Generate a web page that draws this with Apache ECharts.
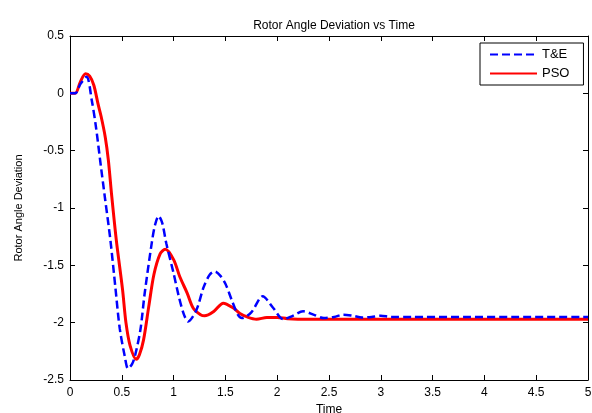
<!DOCTYPE html>
<html>
<head>
<meta charset="utf-8">
<script src="https://cdn.jsdelivr.net/npm/echarts@6/dist/echarts.min.js"></script>
<style>
  html, body { margin: 0; padding: 0; background: #fff; }
  #chart { width: 592px; height: 413px; }
</style>
</head>
<body>
<div id="chart"></div>
<script>
// T&E response (time, value)
var teTime  = [0, 0.05, 0.10, 0.16, 0.21, 0.25, 0.30, 0.34, 0.39, 0.44, 0.48, 0.53, 0.56, 0.60, 0.63, 0.68, 0.72, 0.79, 0.82, 0.855, 0.89, 0.93, 1.0, 1.05, 1.10, 1.14, 1.22, 1.29, 1.35, 1.40, 1.45, 1.50, 1.56, 1.62, 1.66, 1.75, 1.86, 1.96, 2.06, 2.15, 2.25, 2.35, 2.45, 2.55, 2.64, 2.73, 2.82, 2.91, 3.0, 3.1, 3.3, 5.0];
var teValue = [0, 0.0, 0.08, 0.145, -0.06, -0.29, -0.65, -0.93, -1.28, -1.71, -2.05, -2.30, -2.40, -2.36, -2.28, -2.06, -1.75, -1.30, -1.15, -1.07, -1.13, -1.31, -1.57, -1.77, -1.93, -1.99, -1.89, -1.69, -1.58, -1.555, -1.59, -1.66, -1.80, -1.93, -1.96, -1.91, -1.77, -1.87, -1.97, -1.94, -1.90, -1.93, -1.96, -1.95, -1.93, -1.94, -1.955, -1.95, -1.94, -1.95, -1.95, -1.95];

// PSO response (time, value)
var psoTime  = [0, 0.05, 0.10, 0.15, 0.19, 0.23, 0.27, 0.30, 0.34, 0.37, 0.40, 0.447, 0.507, 0.54, 0.58, 0.64, 0.67, 0.71, 0.76, 0.81, 0.87, 0.92, 1.0, 1.06, 1.13, 1.19, 1.26, 1.30, 1.39, 1.48, 1.58, 1.64, 1.71, 1.80, 1.90, 2.0, 2.1, 2.3, 5.0];
var psoValue = [0, 0, 0.10, 0.17, 0.15, 0.07, -0.09, -0.20, -0.38, -0.58, -0.87, -1.28, -1.71, -2.0, -2.2, -2.32, -2.28, -2.15, -1.86, -1.58, -1.40, -1.36, -1.45, -1.60, -1.74, -1.875, -1.93, -1.94, -1.90, -1.83, -1.875, -1.92, -1.95, -1.97, -1.955, -1.955, -1.965, -1.97, -1.97];

var seriesNames = ['T&E', 'PSO'];

function pairs(xs, ys) {
    var out = [];
    for (var i = 0; i < xs.length; i++) out.push([xs[i], ys[i]]);
    return out;
}

var font = 'Liberation Sans, Arial, sans-serif';
var myChart = echarts.init(document.getElementById('chart'));

var boxAxis = {
    axisLine: { show: true, onZero: false, lineStyle: { color: '#000', width: 1 } },
    axisTick: { show: true, inside: true, length: 5, lineStyle: { color: '#000' } },
    splitLine: { show: false }
};

var option = {
    animation: false,
    backgroundColor: '#fff',
    title: {
        text: 'Rotor Angle Deviation vs Time',
        left: 329,
        textAlign: 'center',
        top: 15,
        textStyle: { fontFamily: font, fontSize: 12, fontWeight: 'normal', color: '#000' }
    },
    legend: {
        data: seriesNames,
        orient: 'vertical',
        left: 480,
        top: 43,
        padding: [5, 14, 5, 9],
        itemGap: 6,
        itemWidth: 47,
        itemHeight: 12,
        itemStyle: { opacity: 0 },
        borderColor: '#000',
        borderWidth: 1,
        borderRadius: 0,
        backgroundColor: '#fff',
        textStyle: { fontFamily: font, fontSize: 13, color: '#000' }
    },
    grid: { left: 70, right: 4, top: 36, bottom: 33, outerBoundsMode: 'none' },
    xAxis: [
        Object.assign({
            type: 'value', min: 0, max: 5, interval: 0.5,
            name: 'Time', nameLocation: 'middle', nameGap: 23,
            nameTextStyle: { fontFamily: font, fontSize: 12, color: '#000' },
            axisLabel: { fontFamily: font, fontSize: 12, color: '#000', margin: 7 }
        }, boxAxis),
        Object.assign({
            type: 'value', min: 0, max: 5, interval: 0.5, position: 'top',
            axisLabel: { show: false }
        }, boxAxis)
    ],
    yAxis: [
        Object.assign({
            type: 'value', min: -2.5, max: 0.5, interval: 0.5,
            name: 'Rotor Angle Deviation', nameLocation: 'middle', nameGap: 46, nameRotate: 90,
            nameTextStyle: { fontFamily: font, fontSize: 11, color: '#000' },
            axisLabel: { fontFamily: font, fontSize: 12, color: '#000', margin: 6 }
        }, boxAxis),
        Object.assign({
            type: 'value', min: -2.5, max: 0.5, interval: 0.5, position: 'right',
            axisLabel: { show: false }
        }, boxAxis)
    ],
    series: [
        {
            name: 'T&E', type: 'line', symbol: 'none', smooth: 0.3,
            data: pairs(teTime, teValue),
            itemStyle: { color: '#0000ff' },
            lineStyle: { color: '#0000ff', width: 2.5, type: [8, 4] },
            z: 3
        },
        {
            name: 'PSO', type: 'line', symbol: 'none', smooth: 0.3,
            data: pairs(psoTime, psoValue),
            itemStyle: { color: '#ff0000' },
            lineStyle: { color: '#ff0000', width: 3 },
            z: 2
        }
    ]
};

myChart.setOption(option);
</script>
</body>
</html>
